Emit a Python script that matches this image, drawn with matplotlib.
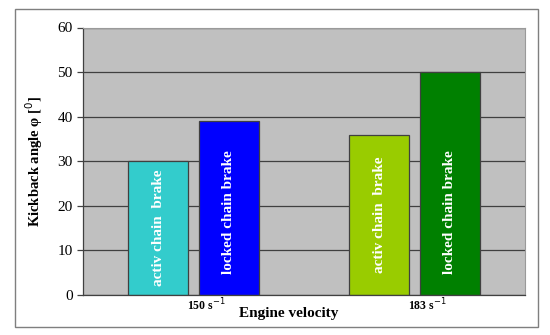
"""
Kickback angle for active vs locked chain brake at two engine velocities.
"""

import matplotlib.pyplot as plt
from matplotlib.patches import Rectangle
import numpy as np

# ── DATA ──────────────────────────────────────────────────────────────────────
velocities   = ["150 s$^{-1}$", "183 s$^{-1}$"]
active_brake = [30, 36]
locked_brake = [39, 50]
bar_labels   = ["activ chain  brake", "locked chain brake"]

active_colors = ["#33CCCC", "#99CC00"]
locked_colors = ["#0000FF", "#008000"]

W, H = 550, 335
# ─────────────────────────────────────────────────────────────────────────────


def main():
    plt.rcParams["font.family"] = ["Liberation Serif", "DejaVu Serif"]

    fig = plt.figure(figsize=(W / 100, H / 100), dpi=100)
    ax = fig.add_axes([83 / W, 1 - 295 / H, (525 - 83) / W, (295 - 27.5) / H])

    # outer frame
    fig.patches.append(Rectangle((15 / W, 1 - 327 / H), (538 - 15) / W, (327 - 9) / H,
                                 transform=fig.transFigure, fill=False,
                                 edgecolor="#7f7f7f", linewidth=1.0))

    x = np.arange(len(velocities))
    width = 0.27
    off = 0.16

    ax.set_facecolor("#C0C0C0")
    ax.set_axisbelow(True)
    ax.yaxis.grid(True, color="#404040", linewidth=0.9)

    b1 = ax.bar(x - off, active_brake, width, color=active_colors,
                edgecolor="#404040", linewidth=0.9)
    b2 = ax.bar(x + off, locked_brake, width, color=locked_colors,
                edgecolor="#404040", linewidth=0.9)

    # labels sit inside the bars, capped so tall bars keep them low
    for bars, label in ((b1, bar_labels[0]), (b2, bar_labels[1])):
        for r in bars:
            ax.text(r.get_x() + r.get_width() / 2, min(r.get_height() / 2, 18.5),
                    label, rotation=90, ha="center", va="center", color="white",
                    fontsize=11, fontweight="bold")

    ax.set_xlim(-0.5, 1.5)
    ax.set_ylim(0, 60)
    ax.set_yticks(range(0, 61, 10))
    ax.tick_params(axis="y", direction="out", length=4, width=0.9,
                   colors="#404040", labelsize=11, labelcolor="black")
    ax.set_xticks(x + 0.06)
    ax.set_xticklabels(velocities, fontsize=8.5, fontweight="bold")
    ax.tick_params(axis="x", length=0, pad=1)

    for s in ("left", "bottom"):
        ax.spines[s].set_color("#404040")
        ax.spines[s].set_linewidth(0.9)
    for s in ("top", "right"):
        ax.spines[s].set_color("#9a9a9a")
        ax.spines[s].set_linewidth(0.8)

    ax.set_ylabel("Kickback angle φ [$^{0}$]", fontsize=10.5, fontweight="bold",
                  labelpad=9)
    ax.set_xlabel("Engine velocity", fontsize=11, fontweight="bold", labelpad=1)
    ax.xaxis.set_label_coords(0.465, -0.045)

    fig.savefig("out.png", dpi=100)


if __name__ == "__main__":
    main()
